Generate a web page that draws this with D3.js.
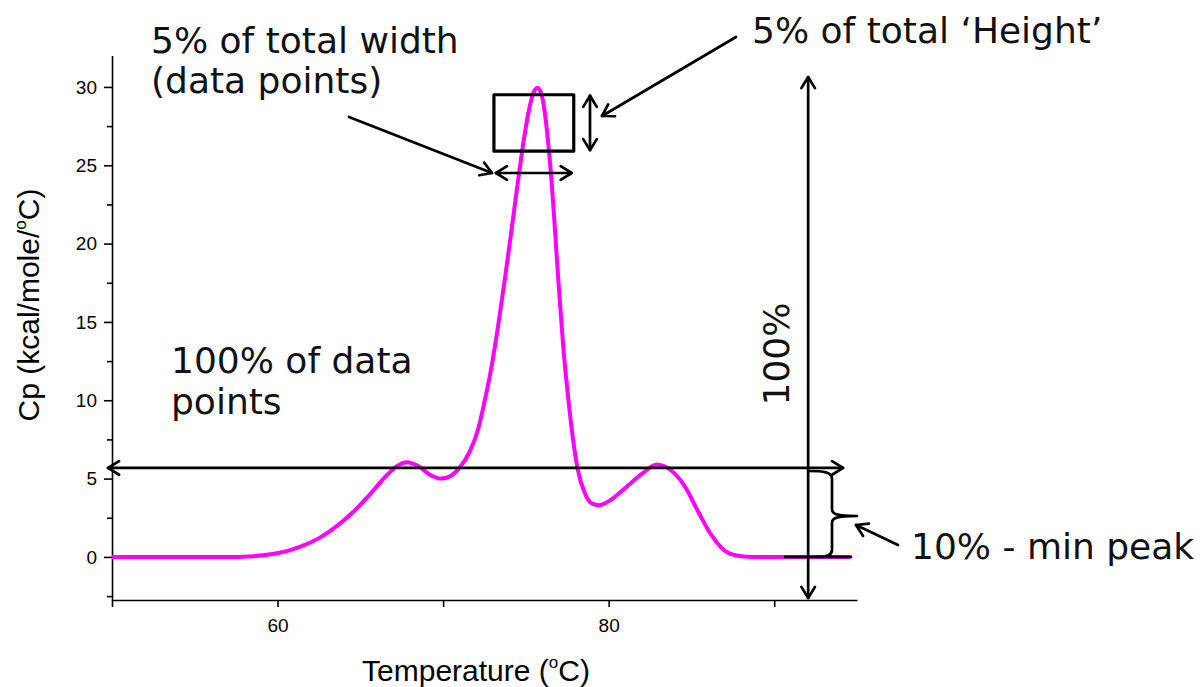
<!DOCTYPE html>
<html>
<head>
<meta charset="utf-8">
<script src="https://cdn.jsdelivr.net/npm/d3@7"></script>
<style>
  html, body { margin: 0; padding: 0; background: #fff; }
  svg { display: block; }
</style>
</head>
<body>
<svg id="chart" width="1203" height="687"></svg>
<script>
// ---- data ----
const temperature = [50, 53, 56, 57.5, 58.5, 59.5, 60.5, 61.5, 62.5, 63.5, 64.5, 65.5, 66.5, 67.2, 67.8, 68.5, 69.2, 69.9, 70.5, 71.0, 71.6, 72.1, 72.5, 72.9, 73.3, 73.7, 74.1, 74.5, 74.9, 75.2, 75.45, 75.7, 75.95, 76.15, 76.35, 76.55, 76.75, 76.95, 77.25, 77.55, 77.85, 78.15, 78.55, 79.0, 79.4, 80.0, 81.0, 82.0, 82.9, 83.8, 84.6, 85.4, 86.2, 87.0, 87.8, 88.8, 91, 93, 94.6];
const cp = [0, 0, 0, 0, 0.05, 0.15, 0.35, 0.7, 1.2, 1.9, 2.8, 3.9, 5.1, 5.8, 6.05, 5.8, 5.25, 5.0, 5.2, 5.7, 6.7, 8.1, 9.9, 12.0, 14.6, 17.5, 20.6, 23.8, 26.8, 28.6, 29.6, 29.95, 29.5, 28.3, 26.4, 24.0, 21.0, 17.8, 13.5, 10.2, 7.5, 5.5, 4.1, 3.4, 3.3, 3.55, 4.4, 5.3, 5.9, 5.5, 4.5, 2.9, 1.4, 0.4, 0.08, 0, 0, 0, 0];

const xMajorTicks = [60, 80];
const xMinorTicks = [50, 70, 90];
const yMajorTicks = [0, 5, 10, 15, 20, 25, 30];
const yMinorTicks = [-2.5, 2.5, 7.5, 12.5, 17.5, 22.5, 27.5];

// annotation anchors (data units)
const boxT = [73.07, 77.89];      // 5% width box
const boxCp = [25.9, 29.5];       // 5% height box
const thresholdCp = 5.68;         // horizontal 100% line
const fullArrowT = 92.05;         // vertical 100% arrow

// ---- layout ----
const svg = d3.select("#chart");
const x = d3.scaleLinear().domain([50, 95]).range([112, 857]);
const y = d3.scaleLinear().domain([-2.75, 32]).range([600, 55.6]);

const axisFont = "'Liberation Sans', Arial, sans-serif";
const noteFont = "'DejaVu Sans', sans-serif";

// axes
const gx = svg.append("g").attr("transform", `translate(0,${y(-2.75)})`);
gx.call(d3.axisBottom(x).tickValues(xMajorTicks).tickSize(7).tickSizeOuter(0).tickPadding(12));
gx.append("g").call(d3.axisBottom(x).tickValues(xMinorTicks).tickSize(7).tickFormat("").tickSizeOuter(0))
  .select(".domain").remove();

const gy = svg.append("g").attr("transform", `translate(${x(50)},0)`);
gy.call(d3.axisLeft(y).tickValues(yMajorTicks).tickSize(8).tickSizeOuter(0).tickPadding(7));
gy.append("g").call(d3.axisLeft(y).tickValues(yMinorTicks).tickSize(5).tickFormat("").tickSizeOuter(0))
  .select(".domain").remove();

svg.selectAll(".domain, .tick line").attr("stroke", "#000").attr("stroke-width", 1.6);
svg.selectAll(".tick text").attr("font-family", axisFont).attr("font-size", 19).attr("fill", "#000");

// axis titles
const xt = svg.append("text")
  .attr("x", 476).attr("y", 681)
  .attr("text-anchor", "middle")
  .attr("font-family", axisFont).attr("font-size", 30).attr("fill", "#000");
xt.append("tspan").text("Temperature (");
xt.append("tspan").attr("font-size", 17).attr("dy", -13).text("o");
xt.append("tspan").attr("dy", 13).text("C)");

const yt = svg.append("text")
  .attr("transform", "translate(39,305) rotate(-90)")
  .attr("text-anchor", "middle")
  .attr("font-family", axisFont).attr("font-size", 30).attr("fill", "#000");
yt.append("tspan").text("Cp (kcal/mole/");
yt.append("tspan").attr("font-size", 17).attr("dy", -13).text("o");
yt.append("tspan").attr("dy", 13).text("C)");

// curve
const line = d3.line()
  .x((d, i) => x(temperature[i]))
  .y(d => y(d))
  .curve(d3.curveMonotoneX);
svg.append("path")
  .datum(cp)
  .attr("d", line)
  .attr("fill", "none")
  .attr("stroke", "#ff00ff")
  .attr("stroke-width", 4)
  .attr("stroke-linejoin", "round");

// ---- annotations ----
const ann = svg.append("g").attr("stroke", "#000").attr("fill", "none")
  .attr("stroke-linecap", "round").attr("stroke-linejoin", "round");

function arrowHead(tx, ty, fx, fy, len = 13, spread = 0.55) {
  const a = Math.atan2(ty - fy, tx - fx);
  const p1 = [tx - len * Math.cos(a - spread), ty - len * Math.sin(a - spread)];
  const p2 = [tx - len * Math.cos(a + spread), ty - len * Math.sin(a + spread)];
  ann.append("path")
    .attr("d", `M${p1[0]},${p1[1]} L${tx},${ty} L${p2[0]},${p2[1]}`)
    .attr("stroke-width", 2.7);
}
function arrow(fx, fy, tx, ty, both = false, w = 2.7) {
  ann.append("line").attr("x1", fx).attr("y1", fy).attr("x2", tx).attr("y2", ty).attr("stroke-width", w);
  arrowHead(tx, ty, fx, fy);
  if (both) arrowHead(fx, fy, tx, ty);
}

// 5% box
ann.append("rect")
  .attr("x", x(boxT[0])).attr("y", y(boxCp[1]))
  .attr("width", x(boxT[1]) - x(boxT[0])).attr("height", y(boxCp[0]) - y(boxCp[1]))
  .attr("stroke-width", 3.2);
// width double arrow under box
arrow(x(boxT[0]) + 2, 173, x(boxT[1]) - 2, 173, true);
// height double arrow beside box
arrow(590, y(boxCp[1]) + 1, 590, y(boxCp[0]) - 1, true);
// pointer arrows from labels
arrow(349, 117, 492, 173);
arrow(736, 37, 602, 116);

// 100% horizontal line
arrow(x(49.76), y(thresholdCp), x(94.16), y(thresholdCp), true);
// 100% vertical arrow
arrow(x(fullArrowT), y(30.63), x(fullArrowT), y(-2.62), true);

// baseline marker
ann.append("line").attr("x1", 785).attr("x2", 851).attr("y1", y(0)).attr("y2", y(0)).attr("stroke-width", 2.7);

// curly bracket
const bx = 832, bTop = 471, bBot = y(0), bMid = 516;
ann.append("path")
  .attr("d", `M${x(fullArrowT)},${bTop} C${bx - 8},${bTop} ${bx},${bTop + 1} ${bx},${bTop + 8}
              L${bx},${bMid - 7} C${bx},${bMid - 2} ${bx + 4},${bMid} ${bx + 25},${bMid}
              M${bx + 25},${bMid} C${bx + 4},${bMid} ${bx},${bMid + 2} ${bx},${bMid + 7}
              L${bx},${bBot - 7} C${bx},${bBot - 1} ${bx - 6},${bBot} ${bx - 14},${bBot}`)
  .attr("stroke-width", 2.7);
// pointer to bracket
arrow(898, 545, 856, 525);

// ---- annotation texts ----
const notes = svg.append("g").attr("font-family", noteFont).attr("font-size", 36).attr("fill", "#111");
notes.append("text").attr("x", 151).attr("y", 53).text("5% of total width");
notes.append("text").attr("x", 151).attr("y", 93).text("(data points)");
notes.append("text").attr("x", 752).attr("y", 43).text("5% of total \u2018Height\u2019");
notes.append("text").attr("x", 171).attr("y", 373).text("100% of data");
notes.append("text").attr("x", 171).attr("y", 414).text("points");
notes.append("text").attr("x", 911).attr("y", 559).text("10% - min peak");
notes.append("text").attr("transform", "translate(789,354) rotate(-90)")
  .attr("text-anchor", "middle").text("100%");
</script>
</body>
</html>
